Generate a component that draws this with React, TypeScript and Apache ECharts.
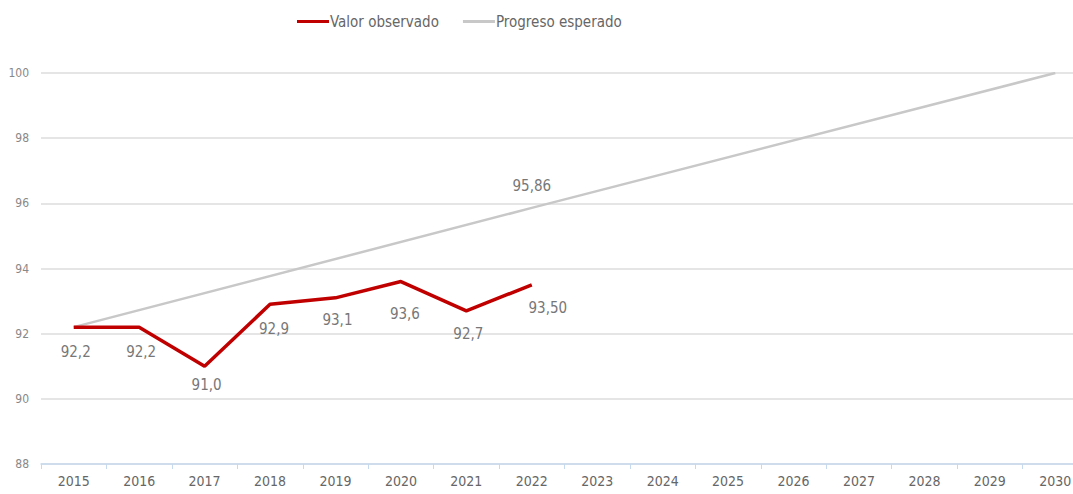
import React, { useEffect, useRef } from "react";
import * as echarts from "echarts";

const years = ["2015","2016","2017","2018","2019","2020","2021","2022","2023","2024","2025","2026","2027","2028","2029","2030"];
const observed = [92.2, 92.2, 91.0, 92.9, 93.1, 93.6, 92.7, 93.5];
const observedLabels = ["92,2","92,2","91,0","92,9","93,1","93,6","92,7","93,50"];
const expected: (number | null)[] = [92.2, null, null, null, null, null, null, 95.86, null, null, null, null, null, null, null, 100];
const expectedLabelIndex = 7;
const expectedLabel = "95,86";

const FONT = "'Liberation Sans Narrow', 'DejaVu Sans Condensed', Roboto, sans-serif";
const labelShift: [number, number][] = [[2, 3], [2, 3], [2, -3], [4, 3], [2, 1], [4, 11], [2, 2], [16, 2]];

export default function App() {
  const ref = useRef<HTMLDivElement>(null);
  useEffect(() => {
    if (!ref.current) return;
    const chart = echarts.init(ref.current, null, { renderer: "svg" });
    chart.setOption({
      animation: false,
      backgroundColor: "#ffffff",
      legend: {
        top: 9,
        left: 292,
        itemWidth: 32,
        itemHeight: 3,
        itemGap: 24,
        icon: "rect",
        textStyle: { fontFamily: FONT, fontSize: 15, color: "#666666", padding: [0, 0, 0, -4] },
        data: ["Valor observado", "Progreso esperado"],
      },
      grid: { left: 41, right: 0, top: 73, bottom: 30, containLabel: false },
      xAxis: {
        type: "category",
        data: years,
        boundaryGap: true,
        axisLine: { lineStyle: { color: "#c6d9ee", width: 1.5 } },
        axisTick: { show: true, length: 5, lineStyle: { color: "#c6d9ee" } },
        axisLabel: { fontFamily: FONT, fontSize: 14, color: "#666666", margin: 10 },
      },
      yAxis: {
        type: "value",
        min: 88,
        max: 100,
        interval: 2,
        axisLine: { show: false },
        axisTick: { show: false },
        axisLabel: { fontFamily: FONT, fontSize: 12, color: "#888888", margin: 12 },
        splitLine: { lineStyle: { color: "#dddddd", width: 1.5 } },
      },
      series: [
        {
          name: "Progreso esperado",
          type: "line",
          data: expected.map((v, i) =>
            i === expectedLabelIndex
              ? { value: v, label: { show: true, formatter: expectedLabel, position: "top", distance: 14 } }
              : v
          ),
          connectNulls: true,
          symbol: "circle",
          symbolSize: 0,
          showSymbol: true,
          lineStyle: { color: "#c8c8c8", width: 2.5 },
          itemStyle: { color: "#c8c8c8" },
          label: { show: false, fontFamily: FONT, fontSize: 15, color: "#777777" },
          z: 1,
        },
        {
          name: "Valor observado",
          type: "line",
          data: observed.map((v, i) => ({
            value: v,
            label: {
              show: true,
              formatter: observedLabels[i],
              position: "bottom",
              distance: 14,
              offset: labelShift[i],
            },
          })),
          symbol: "circle",
          symbolSize: 0,
          showSymbol: true,
          lineStyle: { color: "#c00000", width: 3.5 },
          itemStyle: { color: "#c00000" },
          label: { fontFamily: FONT, fontSize: 15, color: "#777777" },
          z: 2,
        },
      ],
    });
    return () => chart.dispose();
  }, []);
  return (
    <div style={{ width: 1073, height: 494, position: "absolute", left: 0, top: 0, overflow: "hidden" }}>
      <div ref={ref} style={{ width: 1088, height: 494 }} />
    </div>
  );
}
